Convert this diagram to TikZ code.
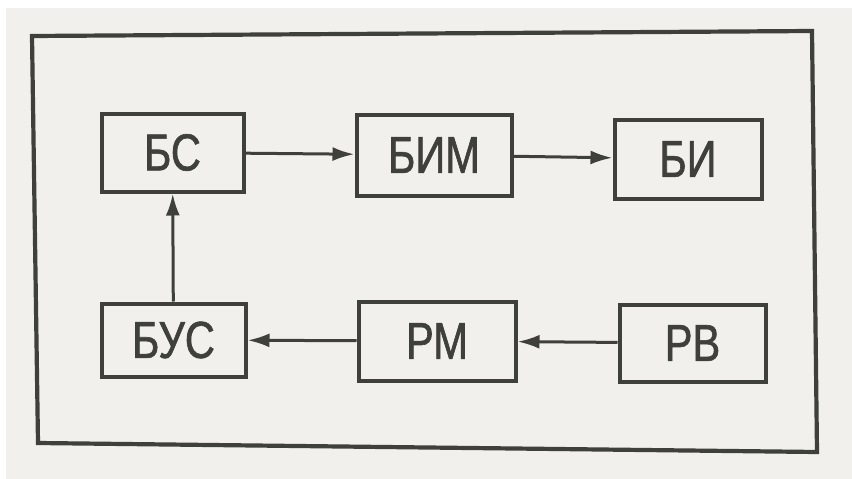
\documentclass[tikz,border=0pt]{standalone}
\usepackage{fontspec}
\newfontfamily\blockfont[FakeStretch=0.8, FakeBold=1.2]{Liberation Sans}
\usetikzlibrary{arrows.meta}
\definecolor{ink}{HTML}{3F3F3C}
\definecolor{paper}{HTML}{F1F0EC}
\tikzstyle{block}=[draw=ink, line width=4pt, inner sep=0pt, text=ink, font=\blockfont\fontsize{52}{52}\selectfont]
\tikzstyle{link}=[draw=ink, line width=3pt, -{Latex[length=22pt,width=14pt]}]

\begin{document}
\begin{tikzpicture}[x=1pt, y=-1pt]
    \fill[white] (0,0) rectangle (852,479);
    \fill[paper] (6,8) rectangle (852,479);
    \useasboundingbox (0,0) rectangle (852,479);
    \draw[ink, line width=4.2pt] (32,36) -- (812,31) -- (817,452) -- (38,443) -- cycle;
    \node[block, minimum width=142pt, minimum height=78pt] (bs) at (172.5,152.5) {БС};
    \node[block, minimum width=155pt, minimum height=81pt] (bim) at (434,155) {БИМ};
    \node[block, minimum width=147pt, minimum height=79pt] (bi) at (688,159) {БИ};
    \node[block, minimum width=144pt, minimum height=73pt] (bus) at (173.5,340) {БУС};
    \node[block, minimum width=157pt, minimum height=79pt] (rm) at (437,341) {РМ};
    \node[block, minimum width=146pt, minimum height=77pt] (rv) at (692.5,343) {РВ};
    \draw[link] (bs) -- (bim);
    \draw[link] (bim) -- (bi);
    \draw[link] (rv) -- (rm);
    \draw[link] (rm) -- (bus);
    \draw[link] (bus) -- (bs);
\end{tikzpicture}
\end{document}
